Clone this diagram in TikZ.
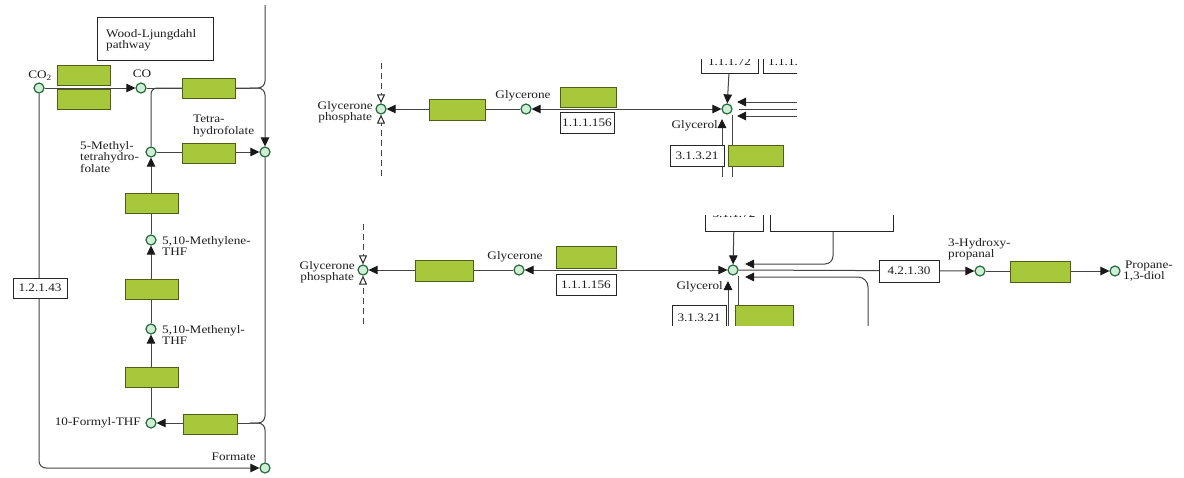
\documentclass[tikz,border=0pt]{standalone}
\usepackage{fontspec}
\setmainfont{Liberation Serif}[FakeStretch=1.15]
\usetikzlibrary{arrows.meta}
\definecolor{enzfill}{RGB}{166,200,58}
\definecolor{enzborder}{RGB}{78,92,28}
\definecolor{cpdfill}{RGB}{205,240,212}
\definecolor{cpdborder}{RGB}{40,105,60}
\definecolor{linecol}{RGB}{68,68,68}
\definecolor{txtcol}{RGB}{30,30,30}
\pgfdeclarelayer{bg}
\pgfdeclarelayer{paper}
\pgfsetlayers{paper,bg,main}
\tikzset{
  cpd/.style={circle, draw=cpdborder, fill=cpdfill, line width=1.2pt, minimum size=10pt, inner sep=0pt},
  enz/.style={rectangle, draw=enzborder, fill=enzfill, line width=1pt, inner sep=0pt, minimum height=20pt, minimum width=54pt},
  ecbox/.style={rectangle, draw=black!85, fill=white, line width=0.8pt, inner sep=0pt, minimum height=20pt, minimum width=54pt, text=txtcol},
  lbl/.style={inner sep=0pt, align=left, text=txtcol},
  ln/.style={draw=linecol, line width=1pt},
  arr/.style={ln, -{Triangle[length=9pt,width=8.5pt,color=black!90]}},
  arrtwo/.style={ln, {Triangle[length=9pt,width=8.5pt,color=black!90]}-{Triangle[length=9pt,width=8.5pt,color=black!90]}},
  openarr/.style={ln, dashed, dash pattern=on 6pt off 4pt, -{Triangle[open, length=9pt, width=8pt, fill=white, color=black!85]}}
}
\begin{document}
\begin{tikzpicture}[x=1pt, y=-1pt, font=\fontsize{11.5}{12.5}\selectfont]
\begin{pgfonlayer}{paper}
\fill[white] (0,0) rectangle (1184,477);
\end{pgfonlayer}
\useasboundingbox (0,0) rectangle (1184,477);

% ================= LEFT PANEL: nodes =================
\node[ecbox, minimum width=116pt, minimum height=43pt] (wl) at (155,38.5) {};
\node[lbl, anchor=west] (wll) at (106,40) {Wood-Ljungdahl\\[-1pt]pathway};
\node[cpd] (co2) at (39,88) {};
\node[lbl] (co2l) at (40,76) {CO\textsubscript{2}};
\node[enz, minimum width=53pt] (e1) at (83.5,75) {};
\node[enz, minimum width=53pt] (e2) at (83.5,99) {};
\node[cpd] (co) at (141,88) {};
\node[lbl] (col) at (142,74) {CO};
\node[enz, minimum width=53pt] (e3) at (208.5,88) {};
\node[cpd] (thf) at (265,152) {};
\node[lbl, anchor=west] (thfl) at (193,126) {Tetra-\\[-1pt]hydrofolate};
\node[cpd] (mthf) at (151,152) {};
\node[lbl, anchor=west] (mthfl) at (80,157) {5-Methyl-\\[-1pt]tetrahydro-\\[-1pt]folate};
\node[enz, minimum width=53pt] (e4) at (208.5,153) {};
\node[enz, minimum width=53pt] (e5) at (151.5,203) {};
\node[cpd] (mlene) at (151,240) {};
\node[lbl, anchor=west] (mlenel) at (162,246) {5,10-Methylene-\\[-2pt]THF};
\node[enz, minimum width=53pt] (e6) at (151.5,289) {};
\node[cpd] (menyl) at (151,329) {};
\node[lbl, anchor=west] (menyll) at (162,335) {5,10-Methenyl-\\[-2pt]THF};
\node[enz, minimum width=53pt] (e7) at (151.5,377) {};
\node[cpd] (formyl) at (151,423) {};
\node[lbl, anchor=east] (formyll) at (141,423) {10-Formyl-THF};
\node[enz, minimum width=54pt] (e8) at (210,424) {};
\node[cpd] (formate) at (265,468) {};
\node[lbl, anchor=east] (formatel) at (256,457) {Formate};
\node[ecbox, minimum width=54pt] (ec1) at (40,288) {1.2.1.43};
\coordinate (ltop) at (265,5);
\coordinate (j1) at (250,88);
\coordinate (j2) at (250,423);

\begin{pgfonlayer}{bg}
\draw[arr] (co2) -- (co);
\draw[ln, rounded corners=7pt] (ltop) |- (j1);
\draw[ln] (co) -- (j1);
\draw[ln, rounded corners=6pt] (mthf) |- (j1);
\draw[arr, rounded corners=7pt] (j1) -| (thf);
\draw[arr] (mthf) -- (thf);
\draw[arr] (mlene) -- (mthf);
\draw[arr] (menyl) -- (mlene);
\draw[arr] (formyl) -- (menyl);
\draw[ln, rounded corners=7pt] (thf) |- (j2);
\draw[arr] (j2) -- (formyl);
\draw[ln, rounded corners=7pt] (j2) -| (formate);
\draw[arr, rounded corners=7pt] (co2) |- (formate);
\end{pgfonlayer}

% ================= TOP PANEL =================
\begin{scope}
\clip (285,59) rectangle (797,177);
\node[cpd] (gp1) at (381,109) {};
\node[enz, minimum width=56pt, minimum height=21pt] (e9) at (457,110) {};
\node[cpd] (glyc1) at (526,109) {};
\node[enz, minimum width=56pt] (e10) at (588,97) {};
\node[ecbox, minimum width=54pt, minimum height=21pt] (ec2) at (587,123) {1.1.1.156};
\node[cpd] (gol1) at (727,109) {};
\node[ecbox, minimum width=57pt] (ec3) at (729.5,63) {};
\node[lbl] (ec3l) at (729.5,62) {1.1.1.72};
\node[ecbox, minimum width=64pt] (ec4) at (795,63) {};
\node[lbl, anchor=west] (ec4l) at (768,62) {1.1.1.6};
\node[ecbox, minimum width=54pt, minimum height=21pt] (ec5) at (697,155.5) {3.1.3.21};
\node[enz, minimum width=55pt, minimum height=21pt] (e14) at (755.5,155.5) {};
\end{scope}
\node[lbl, align=center, anchor=east] (gp1l) at (373,112) {Glycerone\\[-1pt]phosphate};
\node[lbl] (glyc1l) at (523,96) {Glycerone};
\node[lbl, anchor=east] (gol1l) at (718,126) {Glycerol};
\coordinate (d1t) at (381,63);
\coordinate (d1b) at (381,176);
\coordinate (r1) at (797,102);
\coordinate (r2) at (797,109);
\coordinate (r3) at (797,116);
\coordinate (t1) at (737,102);
\coordinate (t2) at (739,109);
\coordinate (t3) at (737,116);
\coordinate (u1) at (722,177);
\coordinate (u1t) at (722,119);
\coordinate (v1) at (732,177);
\coordinate (v1t) at (732,115);

\begin{pgfonlayer}{bg}
\begin{scope}
\clip (285,59) rectangle (797,177);
\draw[openarr] (d1t) -- (gp1);
\draw[openarr] (d1b) -- (gp1);
\draw[arr] (glyc1) -- (gp1);
\draw[arrtwo] (glyc1) -- (gol1);
\draw[arr] (ec3) -- (gol1);
\draw[arr] (r1) -- (t1);
\draw[ln] (r2) -- (t2);
\draw[arr] (r3) -- (t3);
\draw[arr] (u1) -- (u1t);
\draw[ln] (v1t) -- (v1);
\end{scope}
\end{pgfonlayer}

% ================= BOTTOM PANEL =================
\begin{scope}
\clip (285,215) rectangle (900,325);
\node[cpd] (gp2) at (363,270) {};
\node[enz, minimum width=58pt, minimum height=21pt] (e11) at (444,271) {};
\node[cpd] (glyc2) at (519,270) {};
\node[enz, minimum width=60pt, minimum height=22pt] (e12) at (586,257) {};
\node[ecbox, minimum width=60pt, minimum height=21pt] (ec6) at (586,285) {1.1.1.156};
\node[cpd] (gol2) at (733,270) {};
\node[ecbox, minimum width=58pt] (ec7) at (734,221) {};
\node[lbl] (ec7l) at (734,214) {3.1.1.72};
\node[ecbox, minimum width=123pt] (ec8) at (831.5,221) {};
\node[ecbox, minimum width=54pt, minimum height=26pt] (ec10) at (699,318) {3.1.3.21};
\node[enz, minimum width=58pt, minimum height=26pt] (e15) at (764,318) {};
\end{scope}
\node[lbl, align=center, anchor=east] (gp2l) at (355,272) {Glycerone\\[-1pt]phosphate};
\node[lbl] (glyc2l) at (515,257) {Glycerone};
\node[lbl, anchor=east] (gol2l) at (723,287) {Glycerol};
\node[ecbox, minimum width=60pt, minimum height=22pt] (ec9) at (909,271) {4.2.1.30};
\node[cpd] (hp) at (980,271) {};
\node[lbl, anchor=west] (hpl) at (948,249) {3-Hydroxy-\\[-2pt]propanal};
\node[enz, minimum width=60pt, minimum height=21pt] (e13) at (1040,271.5) {};
\node[cpd] (pd) at (1115,271) {};
\node[lbl, anchor=west] (pdl) at (1123,271) {\,Propane-\\[-2pt]1,3-diol};
\coordinate (d2t) at (363,224);
\coordinate (d2b) at (363,324);
\coordinate (s2) at (833,231);
\coordinate (g2a) at (745,264);
\coordinate (s3) at (868,330);
\coordinate (g2b) at (745,277);
\coordinate (u2) at (728,330);
\coordinate (u2t) at (728,281);
\coordinate (v2) at (738,306);
\coordinate (v2t) at (738,276);

\begin{pgfonlayer}{bg}
\begin{scope}
\clip (285,215) rectangle (900,325);
\draw[openarr] (d2t) -- (gp2);
\draw[openarr] (d2b) -- (gp2);
\draw[arr] (glyc2) -- (gp2);
\draw[arrtwo] (glyc2) -- (gol2);
\draw[arr] (ec7) -- (gol2);
\draw[arr, rounded corners=8pt] (s2) |- (g2a);
\draw[arr, rounded corners=10pt] (s3) |- (g2b);
\draw[arr] (u2) -- (u2t);
\draw[ln] (v2t) -- (v2);
\end{scope}
\draw[arr] (gol2) -- (hp);
\draw[arr] (hp) -- (pd);
\end{pgfonlayer}
\end{tikzpicture}
\end{document}
